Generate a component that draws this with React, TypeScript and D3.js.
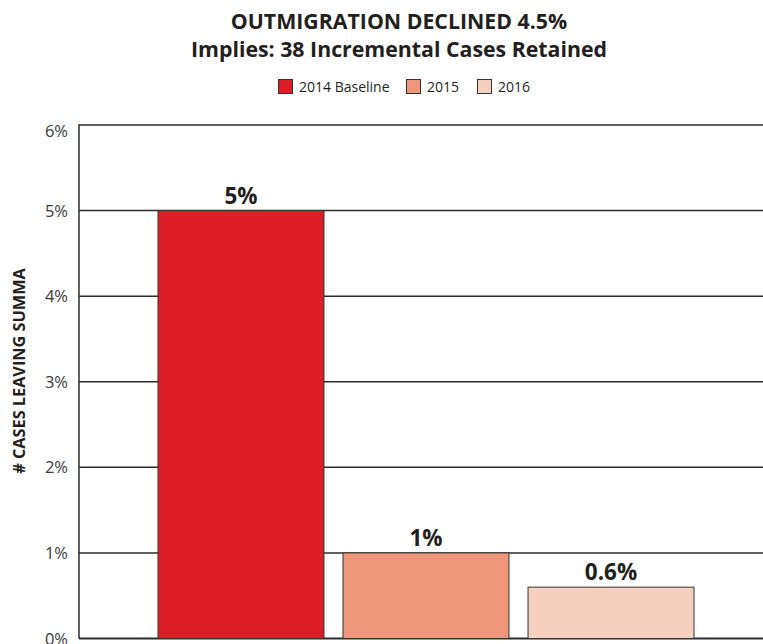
import React from "react";
import * as d3 from "d3";

const categories = ["2014 Baseline", "2015", "2016"];
const values = [5, 1, 0.6];
const valueLabels = ["5%", "1%", "0.6%"];
const colors = ["#DC1F26", "#EE967A", "#F6D0BF"];
const yTicks = [0, 1, 2, 3, 4, 5, 6];
const titleLines = ["OUTMIGRATION DECLINED 4.5%", "Implies: 38 Incremental Cases Retained"];
const yAxisLabel = "# CASES LEAVING SUMMA";

const W = 763;
const H = 644;
const left = 79;
const top = 125;
const bottom = 638.5;
const right = 773;

export default function App() {
  const y = d3.scaleLinear().domain([0, 6]).range([bottom, top]);
  const x = d3
    .scaleBand<string>()
    .domain(categories)
    .range([left, right])
    .paddingInner(0.103)
    .paddingOuter(0.427);

  const font = "'Open Sans', 'DejaVu Sans', sans-serif";
  const legendX = [278, 406, 477];
  const titleY = [29, 57];

  return (
    <svg
      width={W}
      height={H}
      style={{ position: "absolute", left: 0, top: 0, background: "#fff" }}
      fontFamily={font}
    >
      <rect width={W} height={H} fill="#fff" />
      {titleLines.map((t, i) => (
        <text
          key={t}
          x={399}
          y={titleY[i]}
          textAnchor="middle"
          fontWeight={700}
          fontSize={21.3}
          fill="#231F20"
        >
          {t}
        </text>
      ))}
      {categories.map((c, i) => (
        <g key={c} transform={`translate(${legendX[i]},79)`}>
          <rect x={0.5} y={0.5} width={14} height={14} fill={colors[i]} stroke="#333" strokeWidth={1} />
          <text x={21} y={13} fontSize={14} fill="#231F20">
            {c}
          </text>
        </g>
      ))}
      {yTicks.map((t) => (
        <line
          key={t}
          x1={left}
          x2={W}
          y1={y(t)}
          y2={y(t)}
          stroke="#2b2b2b"
          strokeWidth={t === 0 ? 2 : 1.5}
        />
      ))}
      {yTicks.map((t) => (
        <text
          key={"l" + t}
          x={68}
          y={y(t) + 6 + (t === 6 ? 6 : 0)}
          textAnchor="end"
          fontSize={16.5}
          fill="#3a3a3a"
        >
          {t}%
        </text>
      ))}
      <line x1={left} x2={left} y1={top - 0.75} y2={bottom} stroke="#2b2b2b" strokeWidth={1.5} />
      {categories.map((c, i) => (
        <rect
          key={c}
          x={x(c)!}
          y={y(values[i])}
          width={x.bandwidth()}
          height={y(0) - y(values[i])}
          fill={colors[i]}
          stroke="#333"
          strokeWidth={1}
        />
      ))}
      {categories.map((c, i) => (
        <text
          key={"v" + c}
          x={x(c)! + x.bandwidth() / 2}
          y={y(values[i]) - 7}
          textAnchor="middle"
          fontWeight={700}
          fontSize={22.5}
          fill="#231F20"
        >
          {valueLabels[i]}
        </text>
      ))}
      <text
        transform={`translate(25,371) rotate(-90)`}
        textAnchor="middle"
        fontWeight={700}
        fontSize={16.3}
        fill="#231F20"
      >
        {yAxisLabel}
      </text>
    </svg>
  );
}
